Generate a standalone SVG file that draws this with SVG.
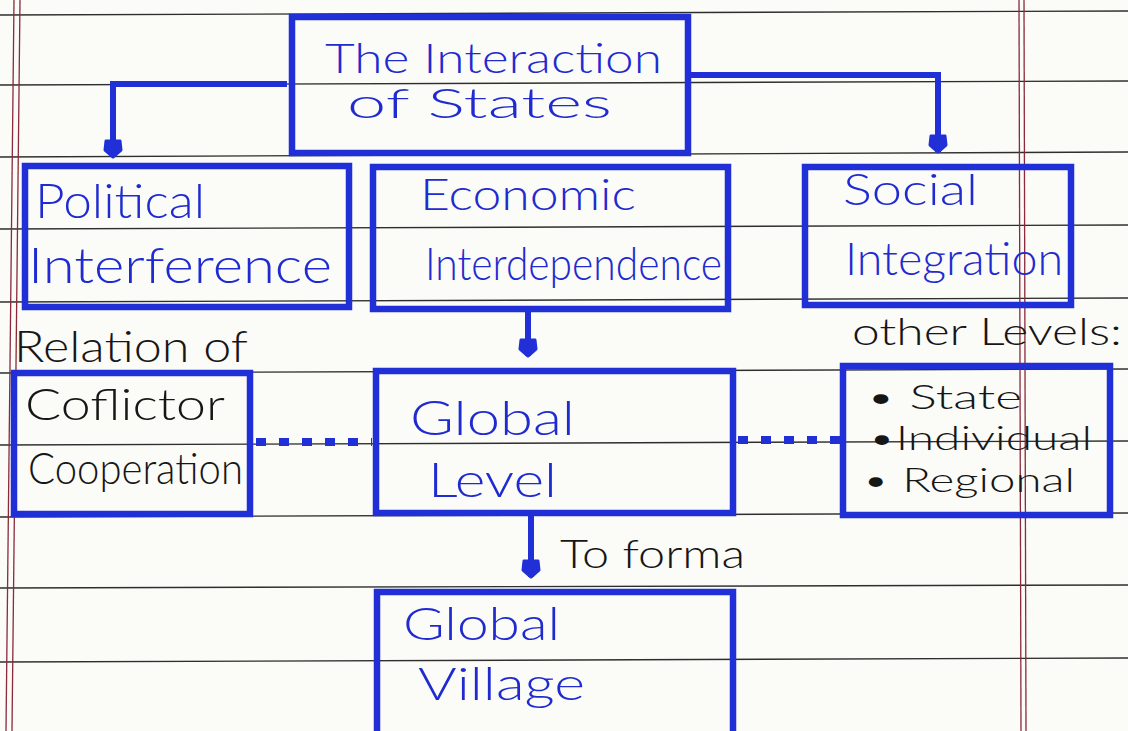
<svg xmlns="http://www.w3.org/2000/svg" width="1128" height="731" viewBox="0 0 1128 731">
  <defs>
    <style>
      .paper { fill: #fbfbf8; }
      .rule { stroke: #2e2e2e; stroke-width: 1.4; fill: none; }
      .margin { stroke: #8a2a3a; stroke-width: 1.3; fill: none; }
      .box { fill: none; stroke: #2130d6; stroke-width: 6.5; stroke-linejoin: miter; }
      .link { fill: none; stroke: #2130d6; stroke-width: 6; }
      .dots { fill: none; stroke: #2130d6; stroke-width: 8; stroke-dasharray: 10 13; }
      .ink-blue { fill: #1f2bd0; font-family: Lato, "Open Sans", "DejaVu Sans", sans-serif; font-weight: 300; }
      .ink-black { fill: #161616; font-family: Lato, "Open Sans", "DejaVu Sans", sans-serif; font-weight: 300; }
    </style>
    <marker id="blob" viewBox="-10 -10 20 20" refX="8" refY="0" markerWidth="20" markerHeight="20" markerUnits="userSpaceOnUse" orient="auto">
      <path d="M -8 -7 L 1 -8 L 8 0 L 1 8 L -8 7 Z" fill="#2130d6" stroke="#2130d6" stroke-width="3" stroke-linejoin="round"/>
    </marker>
  </defs>

  <!-- notebook page -->
  <rect class="paper" x="0" y="0" width="1128" height="731"/>
  <g id="ruling">
    <line class="rule" x1="0" y1="15" x2="1128" y2="11"/>
    <line class="rule" x1="0" y1="85" x2="1128" y2="81"/>
    <line class="rule" x1="0" y1="157" x2="1128" y2="152"/>
    <line class="rule" x1="0" y1="229" x2="1128" y2="225"/>
    <line class="rule" x1="0" y1="302" x2="1128" y2="298"/>
    <line class="rule" x1="0" y1="373" x2="1128" y2="369"/>
    <line class="rule" x1="0" y1="445" x2="1128" y2="441"/>
    <line class="rule" x1="0" y1="517" x2="1128" y2="513"/>
    <line class="rule" x1="0" y1="588" x2="1128" y2="585"/>
    <line class="rule" x1="0" y1="662" x2="1128" y2="658"/>
    <line class="margin" x1="14" y1="0" x2="6" y2="731"/>
    <line class="margin" x1="20" y1="0" x2="12" y2="731"/>
    <line class="margin" x1="1019" y1="0" x2="1021" y2="731"/>
    <line class="margin" x1="1024" y1="0" x2="1026" y2="731"/>
  </g>

  <!-- connectors -->
  <g id="connectors">
    <path class="link" d="M 287 84 H 113 V 157" marker-end="url(#blob)"/>
    <path class="link" d="M 690 75 H 938 V 152" marker-end="url(#blob)"/>
    <path class="link" d="M 528 310 V 356" marker-end="url(#blob)"/>
    <path class="link" d="M 531 515 V 577" marker-end="url(#blob)"/>
    <line class="dots" x1="256" y1="442" x2="372" y2="442"/>
    <line class="dots" x1="738" y1="440" x2="840" y2="440"/>
  </g>

  <g id="interaction-of-states">
    <rect class="box" x="292" y="17" width="396" height="136"/>
    <text class="ink-blue" x="325" y="73" font-size="41" textLength="337" lengthAdjust="spacingAndGlyphs">The Interaction</text>
    <text class="ink-blue" x="347" y="118" font-size="41" textLength="265" lengthAdjust="spacingAndGlyphs">of States</text>
  </g>

  <g id="political-interference">
    <rect class="box" x="25" y="166" width="324" height="141"/>
    <text class="ink-blue" x="35" y="218" font-size="48" textLength="170" lengthAdjust="spacingAndGlyphs">Political</text>
    <text class="ink-blue" x="28" y="283" font-size="50" textLength="304" lengthAdjust="spacingAndGlyphs">Interference</text>
  </g>

  <g id="economic-interdependence">
    <rect class="box" x="373" y="167" width="355" height="142"/>
    <text class="ink-blue" x="420" y="210" font-size="44" textLength="216" lengthAdjust="spacingAndGlyphs">Economic</text>
    <text class="ink-blue" x="425" y="280" font-size="46" textLength="297" lengthAdjust="spacingAndGlyphs">Interdependence</text>
  </g>

  <g id="social-integration">
    <rect class="box" x="805" y="167" width="266" height="138"/>
    <text class="ink-blue" x="843" y="205" font-size="44" textLength="135" lengthAdjust="spacingAndGlyphs">Social</text>
    <text class="ink-blue" x="845" y="275" font-size="46" textLength="218" lengthAdjust="spacingAndGlyphs">Integration</text>
  </g>

  <g id="relation-label">
    <text class="ink-black" x="14" y="362" font-size="44" textLength="234" lengthAdjust="spacingAndGlyphs">Relation of</text>
  </g>

  <g id="conflict-cooperation">
    <rect class="box" x="14" y="373" width="236" height="141"/>
    <text class="ink-black" x="25" y="420" font-size="44" textLength="200" lengthAdjust="spacingAndGlyphs">Coflictor</text>
    <text class="ink-black" x="28" y="484" font-size="44" textLength="215" lengthAdjust="spacingAndGlyphs">Cooperation</text>
  </g>

  <g id="global-level">
    <rect class="box" x="376" y="371" width="357" height="142"/>
    <text class="ink-blue" x="410" y="435" font-size="48" textLength="165" lengthAdjust="spacingAndGlyphs">Global</text>
    <text class="ink-blue" x="428" y="497" font-size="48" textLength="129" lengthAdjust="spacingAndGlyphs">Level</text>
  </g>

  <g id="other-levels-label">
    <text class="ink-black" x="852" y="345" font-size="38" textLength="270" lengthAdjust="spacingAndGlyphs">other Levels:</text>
  </g>

  <g id="other-levels">
    <rect class="box" x="843" y="366" width="267" height="149"/>
    <text class="ink-black" x="866" y="409" font-size="34" textLength="156" lengthAdjust="spacingAndGlyphs">• State</text>
    <text class="ink-black" x="868" y="450" font-size="34" textLength="224" lengthAdjust="spacingAndGlyphs">•Individual</text>
    <text class="ink-black" x="862" y="492" font-size="34" textLength="213" lengthAdjust="spacingAndGlyphs">• Regional</text>
  </g>

  <g id="to-form-label">
    <text class="ink-black" x="560" y="568" font-size="40" textLength="185" lengthAdjust="spacingAndGlyphs">To forma</text>
  </g>

  <g id="global-village">
    <rect class="box" x="377" y="592" width="356" height="150"/>
    <text class="ink-blue" x="403" y="640" font-size="46" textLength="157" lengthAdjust="spacingAndGlyphs">Global</text>
    <text class="ink-blue" x="418" y="700" font-size="46" textLength="167" lengthAdjust="spacingAndGlyphs">Village</text>
  </g>
</svg>
